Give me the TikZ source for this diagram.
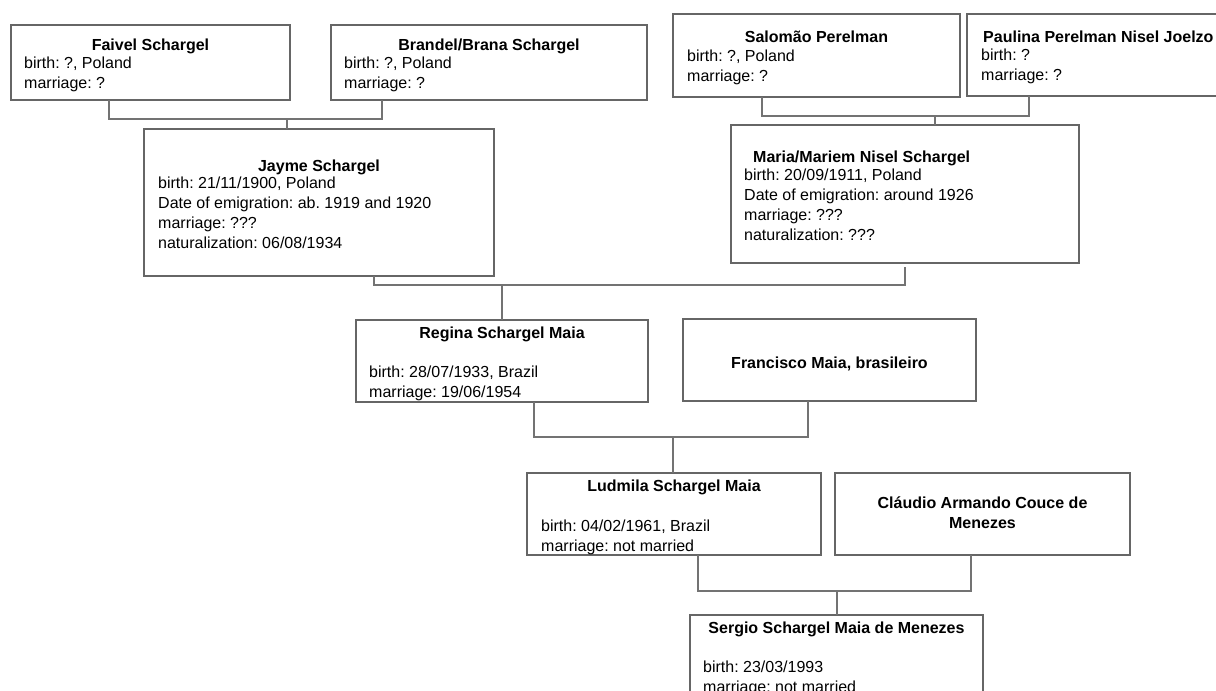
\documentclass[tikz,border=0pt]{standalone}
\usepackage{fontspec}
\setmainfont{Liberation Sans}
\usepackage{tikz}
\usetikzlibrary{positioning,calc}
\frenchspacing
\tikzset{
    personBox/.style={
        draw=black!60,
        line width=1.2pt,
        fill=white,
        anchor=north west,
        inner sep=0pt,
        outer sep=0pt
    },
    nameLabel/.style={
        font=\fontsize{16}{20}\selectfont\bfseries,
        inner sep=0pt,
        anchor=base
    },
    infoLabel/.style={
        font=\fontsize{16}{20}\selectfont,
        align=left,
        inner sep=0pt,
        anchor=north west
    },
    famLink/.style={
        draw=black!55,
        line width=1.2pt
    },
}

\begin{document}
\begin{tikzpicture}[x=1pt, y=-1pt]
    \useasboundingbox (0,0) rectangle (1216,691);
    \clip (0,0) rectangle (1216,691);

    % Top row - great-grandparents
    % Faivel
    \node[personBox, minimum width=279pt, minimum height=75pt] (faivel) at (11,25) {};
    \node[nameLabel] (faivelName) at (150.5,50) {Faivel Schargel};
    \node[infoLabel] (faivelInfo) at (24,57) {birth: ?, Poland\\marriage: ?};

    % Brandel
    \node[personBox, minimum width=316pt, minimum height=75pt] (brandel) at (331,25) {};
    \node[nameLabel] (brandelName) at (489,50) {Brandel/Brana Schargel};
    \node[infoLabel] (brandelInfo) at (344,57) {birth: ?, Poland\\marriage: ?};

    % Salomao
    \node[personBox, minimum width=287pt, minimum height=83pt] (salomao) at (673,14) {};
    \node[nameLabel] (salomaoName) at (816.5,42) {Salomão Perelman};
    \node[infoLabel] (salomaoInfo) at (687,50) {birth: ?, Poland\\marriage: ?};

    % Paulina
    \node[personBox, minimum width=300pt, minimum height=82pt] (paulina) at (967,14) {};
    \node[nameLabel, anchor=base west] (paulinaName) at (983,42) {Paulina Perelman Nisel Joelzo};
    \node[infoLabel] (paulinaInfo) at (981,49) {birth: ?\\marriage: ?};

    % Second row - grandparents
    % Jayme
    \node[personBox, minimum width=350pt, minimum height=147pt] (jayme) at (144,129) {};
    \node[nameLabel] (jaymeName) at (319,171) {Jayme Schargel};
    \node[infoLabel] (jaymeInfo) at (158,177) {birth: 21/11/1900, Poland\\Date of emigration: ab. 1919 and 1920\\marriage: ???\\naturalization: 06/08/1934};

    % Maria
    \node[personBox, minimum width=348pt, minimum height=138pt] (maria) at (731,125) {};
    \node[nameLabel, anchor=base west] (mariaName) at (753,162) {Maria/Mariem Nisel Schargel};
    \node[infoLabel] (mariaInfo) at (744,169) {birth: 20/09/1911, Poland\\Date of emigration: around 1926\\marriage: ???\\naturalization: ???};

    % Third row - parents
    % Regina
    \node[personBox, minimum width=292pt, minimum height=82pt] (regina) at (356,320) {};
    \node[nameLabel] (reginaName) at (502,338) {Regina Schargel Maia};
    \node[infoLabel] (reginaInfo) at (369,366) {birth: 28/07/1933, Brazil\\marriage: 19/06/1954};

    % Francisco
    \node[personBox, minimum width=293pt, minimum height=82pt] (francisco) at (683,319) {};
    \node[nameLabel] (franciscoName) at (829.5,368) {Francisco Maia, brasileiro};

    % Fourth row
    % Ludmila
    \node[personBox, minimum width=294pt, minimum height=82pt] (ludmila) at (527,473) {};
    \node[nameLabel] (ludmilaName) at (674,491) {Ludmila Schargel Maia};
    \node[infoLabel] (ludmilaInfo) at (541,520) {birth: 04/02/1961, Brazil\\marriage: not married};

    % Claudio
    \node[personBox, minimum width=295pt, minimum height=82pt] (claudio) at (835,473) {};
    \node[nameLabel, anchor=north, align=center] (claudioName) at (982.5,497) {Cláudio Armando Couce de\\Menezes};

    % Bottom - Sergio
    \node[personBox, minimum width=293pt, minimum height=100pt] (sergio) at (690,615) {};
    \node[nameLabel] (sergioName) at (836.5,633) {Sergio Schargel Maia de Menezes};
    \node[infoLabel] (sergioInfo) at (703,661) {birth: 23/03/1993\\marriage: not married};

    % Family links
    \coordinate (fsJoin) at (287,119);
    \draw[famLink] ([xshift=-41.5pt]faivel.south) |- (fsJoin) -| ([xshift=-107pt]brandel.south);
    \draw[famLink] (fsJoin) -- (fsJoin |- jayme.north);

    \coordinate (spJoin) at (935,116);
    \draw[famLink] ([xshift=-54.5pt]salomao.south) |- (spJoin) -| ([xshift=62pt]paulina.south west);
    \draw[famLink] (spJoin) -- (spJoin |- maria.north);

    \coordinate (jmJoin) at (502,285);
    \draw[famLink] ([xshift=55pt]jayme.south) |- (jmJoin) -| ([yshift=-4pt]maria.south);
    \draw[famLink] (jmJoin) -- (jmJoin |- regina.north);

    \coordinate (rfJoin) at (673,437);
    \draw[famLink] ([xshift=32pt]regina.south) |- (rfJoin) -| ([xshift=-21.5pt]francisco.south);
    \draw[famLink] (rfJoin) -- (rfJoin |- ludmila.north);

    \coordinate (lcJoin) at (837,591);
    \draw[famLink] ([xshift=24pt]ludmila.south) |- (lcJoin) -| ([xshift=-11.5pt]claudio.south);
    \draw[famLink] (lcJoin) -- (lcJoin |- sergio.north);

\end{tikzpicture}
\end{document}
